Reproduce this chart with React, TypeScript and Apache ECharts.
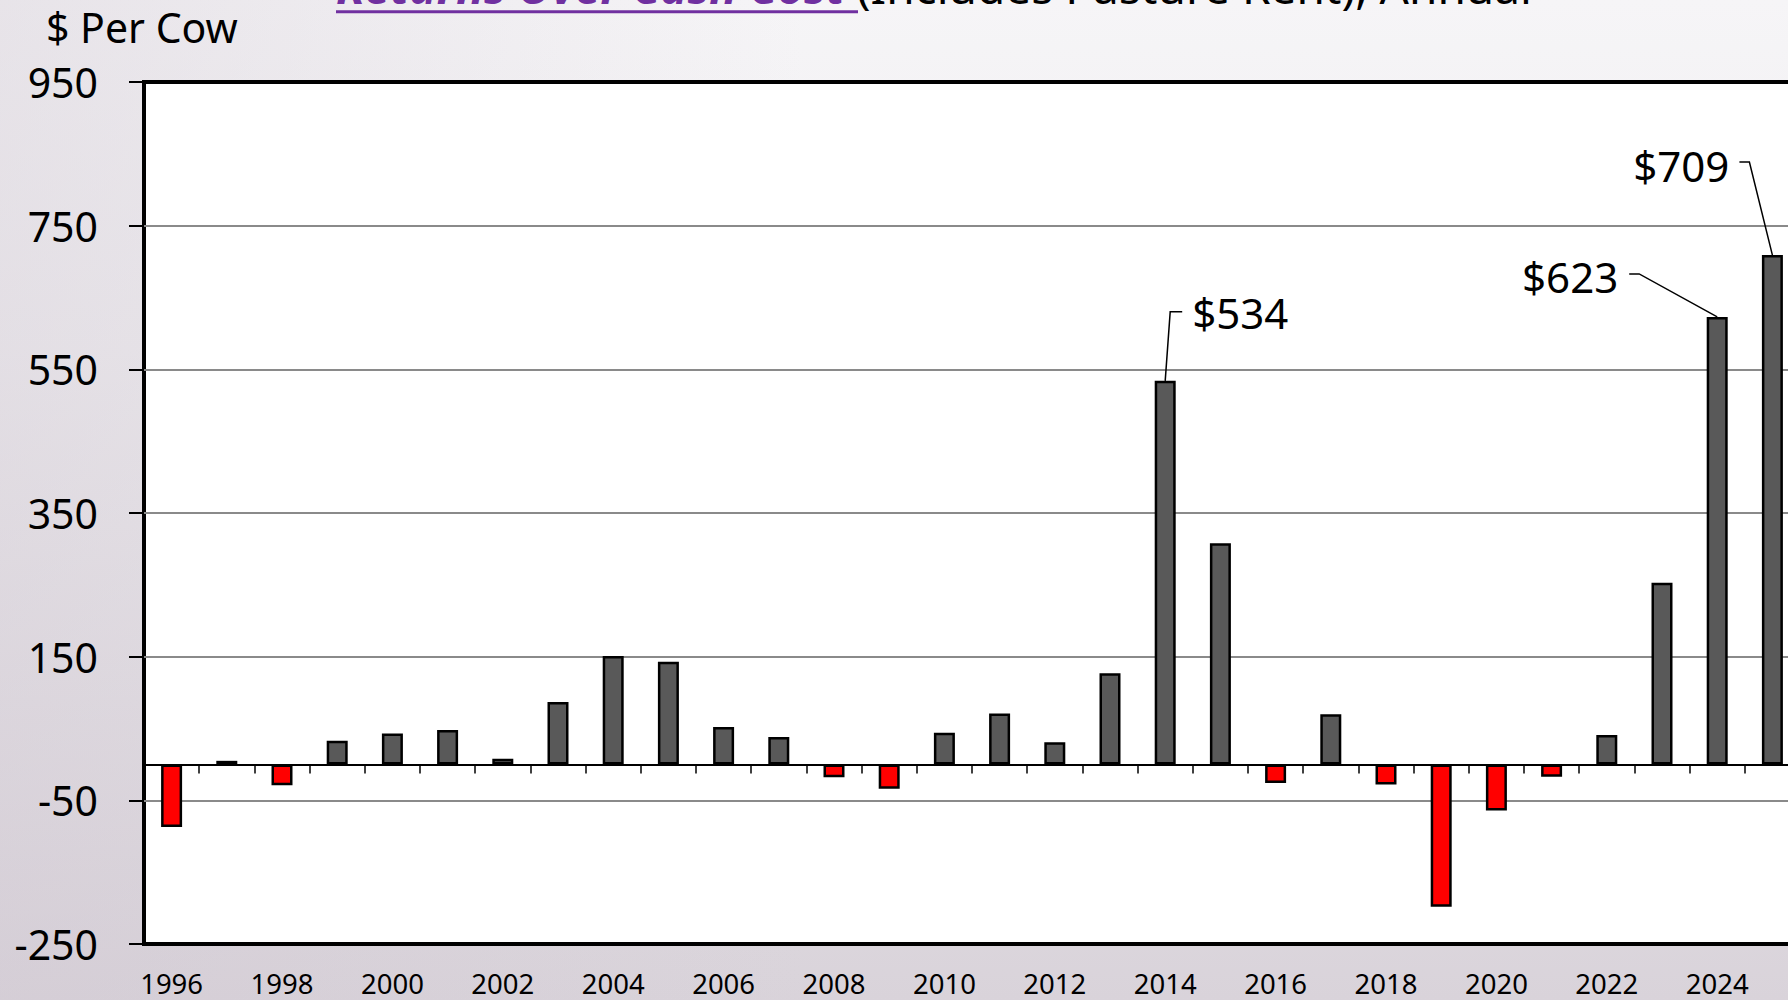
import React, { useEffect, useRef } from "react";
import * as echarts from "echarts";

const years = [
  "1996", "1997", "1998", "1999", "2000", "2001", "2002", "2003", "2004", "2005",
  "2006", "2007", "2008", "2009", "2010", "2011", "2012", "2013", "2014", "2015",
  "2016", "2017", "2018", "2019", "2020", "2021", "2022", "2023", "2024", "2025",
];
const returnsPerCow = [
  -87, 5, -29, 33, 43, 48, 8, 87, 151, 143,
  52, 38, -18, -34, 44, 71, 31, 127, 534, 308,
  -26, 70, -28, -198, -64, -17, 41, 253, 623, 709,
];
const yTickLabels = ["-250", "-50", "150", "350", "550", "750", "950"];
const yMin = -250;
const yMax = 950;
const yStep = 200;
const annotatedYears = ["2014", "2024", "2025"];
const titleLink = "Returns Over Cash Cost ";
const titleRest = "(Includes Pasture Rent), Annual";
const unitLabel = "$ Per Cow";

const FONT = "'Noto Sans', 'Open Sans', sans-serif";

// leader-line geometry relative to the bar top (style only)
const annotationStyle: Record<string, { pts: number[][]; tx: number; ty: number; align: string }> = {
  "2014": { pts: [[0, 0], [5, -69], [17, -69]], tx: 27, ty: -68, align: "left" },
  "2024": { pts: [[0, 0], [-78, -43], [-88, -43]], tx: -99, ty: -40, align: "right" },
  "2025": { pts: [[0, 0], [-23, -93], [-33, -93]], tx: -43, ty: -90, align: "right" },
};

export default function App() {
  const ref = useRef<HTMLDivElement>(null);

  useEffect(() => {
    if (!ref.current) return;
    const chart = echarts.init(ref.current, null, { renderer: "svg" });

    const option: any = {
      animation: false,
      backgroundColor: "transparent",
      grid: {
        left: 144,
        top: 82,
        width: 1656,
        height: 862,
        show: true,
        containLabel: false,
        outerBoundsMode: "none",
        backgroundColor: "#ffffff",
        borderColor: "#000000",
        borderWidth: 4,
      },
      xAxis: [
        {
          type: "category",
          data: years,
          position: "bottom",
          axisLine: { show: true, onZero: true, onZeroAxisIndex: 0, lineStyle: { color: "#000", width: 2 } },
          axisTick: { show: true, alignWithLabel: false, length: 9, lineStyle: { color: "#000", width: 1.5 } },
          axisLabel: { show: false },
          splitLine: { show: false },
          z: 5,
        },
        {
          type: "category",
          data: years,
          position: "bottom",
          axisLine: { show: false, onZero: false },
          axisTick: { show: false },
          axisLabel: {
            show: true,
            interval: 1,
            fontSize: 27.5,
            fontFamily: FONT,
            color: "#000",
            margin: 25,
          },
          splitLine: { show: false },
        },
      ],
      yAxis: [
        {
          type: "value",
          position: "left",
          min: yMin,
          max: yMax,
          axisLine: { show: false },
          axisTick: { show: false },
          axisLabel: { show: false },
          splitLine: { show: false },
        },
        {
          type: "value",
          position: "left",
          min: 0,
          max: yMax - yMin,
          interval: yStep,
          axisLine: { show: false },
          axisTick: { show: true, length: 15, lineStyle: { color: "#000", width: 2 } },
          axisLabel: {
            show: true,
            fontSize: 41,
            fontFamily: FONT,
            color: "#000",
            margin: 46,
            formatter: (_v: number, i: number) => yTickLabels[i],
          },
          splitLine: {
            show: true,
            showMinLine: false,
            showMaxLine: false,
            lineStyle: { color: "#8a8a8a", width: 2 },
          },
        },
      ],
      series: [
        {
          type: "bar",
          xAxisIndex: 0,
          yAxisIndex: 0,
          data: returnsPerCow,
          barWidth: 21,
          itemStyle: {
            color: (p: any) => (p.value < 0 ? "#ff0000" : "#595959"),
            borderColor: "#000",
            borderWidth: 2.5,
          },
          z: 3,
        },
      ],
    };

    chart.setOption(option);

    const graphics: any[] = [];
    // title (cut off at the top like in the source slide)
    graphics.push({
      type: "text",
      x: 336,
      y: -14,
      style: {
        text: `{a|${titleLink}}{b|${titleRest}}`,
        verticalAlign: "middle",
        rich: {
          a: { fontSize: 46, fontWeight: "bold", fontStyle: "italic", fill: "#7030a0", fontFamily: FONT },
          b: { fontSize: 46, fill: "#000", fontFamily: FONT },
        },
      },
    });
    graphics.push({
      type: "line",
      shape: { x1: 336, y1: 11.7, x2: 858, y2: 11.7 },
      style: { stroke: "#7030a0", lineWidth: 3 },
    });
    graphics.push({
      type: "text",
      x: 46,
      y: 27,
      style: {
        text: unitLabel,
        fontSize: 41,
        fontFamily: FONT,
        fill: "#000",
        verticalAlign: "middle",
        align: "left",
      },
    });

    annotatedYears.forEach((yr) => {
      const idx = years.indexOf(yr);
      const val = returnsPerCow[idx];
      const p = chart.convertToPixel({ xAxisIndex: 0, yAxisIndex: 0 }, [idx, val]) as number[];
      const s = annotationStyle[yr];
      graphics.push({
        type: "polyline",
        shape: { points: s.pts.map(([dx, dy]) => [p[0] + dx, p[1] + dy]) },
        style: { stroke: "#000", lineWidth: 1.5, fill: null },
        z: 10,
      });
      graphics.push({
        type: "text",
        x: p[0] + s.tx,
        y: p[1] + s.ty,
        style: {
          text: "$" + val,
          fontSize: 42,
          fontFamily: FONT,
          fill: "#000",
          align: s.align,
          verticalAlign: "middle",
        },
        z: 10,
      });
    });

    chart.setOption({ graphic: graphics });

    return () => chart.dispose();
  }, []);

  return (
    <div
      style={{
        position: "fixed",
        left: 0,
        top: 0,
        width: 1788,
        height: 1000,
        overflow: "hidden",
        background:
          "linear-gradient(90deg, rgba(205,196,207,0.35) 0%, rgba(205,196,207,0) 45%), linear-gradient(180deg, #f6f5f7 0%, #efedf0 35%, #e3dfe4 70%, #d9d3da 100%)",
      }}
    >
      <div ref={ref} style={{ width: 1788, height: 1000 }} />
    </div>
  );
}
